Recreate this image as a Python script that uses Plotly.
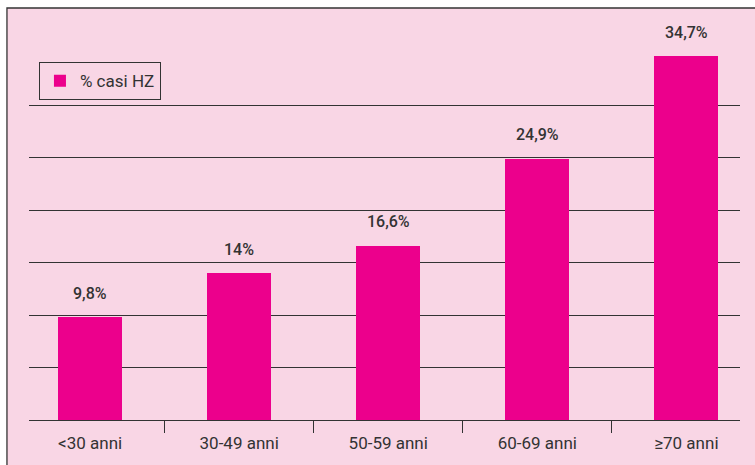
import plotly.graph_objects as go

# Share of HZ cases by age group (%)
categories = ["<30 anni", "30-49 anni", "50-59 anni", "60-69 anni", "≥70 anni"]
values = [9.8, 14.0, 16.6, 24.9, 34.7]
value_labels = ["9,8%", "14%", "16,6%", "24,9%", "34,7%"]
series_name = "% casi HZ"

PINK_BG = "#F9D6E5"
MAGENTA = "#EC008C"
INK = "#333333"
FONT = "Roboto"

fig = go.Figure()
fig.add_trace(go.Bar(
    x=categories,
    y=values,
    name=series_name,
    marker=dict(color=MAGENTA, line=dict(width=0)),
    width=0.43,
    showlegend=True,
))

# Value labels above each bar
for cat, v, lab in zip(categories, values, value_labels):
    fig.add_annotation(
        x=cat, y=v, text=lab, showarrow=False,
        yanchor="middle", yshift=24,
        font=dict(family=FONT, size=16, color=INK, weight=500),
    )

# Pink panel with a dark frame behind the plot
fig.add_shape(
    type="rect", xref="paper", yref="paper",
    x0=-0.031, x1=1.06, y0=-0.2, y1=1.1226,
    fillcolor=PINK_BG, line=dict(color=INK, width=1.3),
    layer="below",
)

fig.update_layout(
    width=755, height=465,
    margin=dict(l=29, r=15, t=53, b=45),
    paper_bgcolor="white",
    plot_bgcolor=PINK_BG,
    font=dict(family=FONT, size=17, color=INK),
    bargap=0,
    legend=dict(
        x=0.014, y=0.975, xanchor="left", yanchor="top",
        bgcolor=PINK_BG, bordercolor=INK, borderwidth=1,
        font=dict(family=FONT, size=17, color=INK),
        itemwidth=30,
    ),
    xaxis=dict(
        type="category",
        range=[-0.41, 4.36],
        showline=True, linecolor=INK, linewidth=1.3,
        ticks="outside", tickson="boundaries", ticklen=12,
        tickcolor=INK, tickwidth=1.3,
        ticklabelstandoff=7,
        showgrid=False,
        tickfont=dict(family=FONT, size=17, color=INK),
    ),
    yaxis=dict(
        range=[0, 35], dtick=5,
        showgrid=True, gridcolor=INK, gridwidth=1.3,
        zeroline=False, showticklabels=False, ticks="",
    ),
)

fig.write_html("out.html")
